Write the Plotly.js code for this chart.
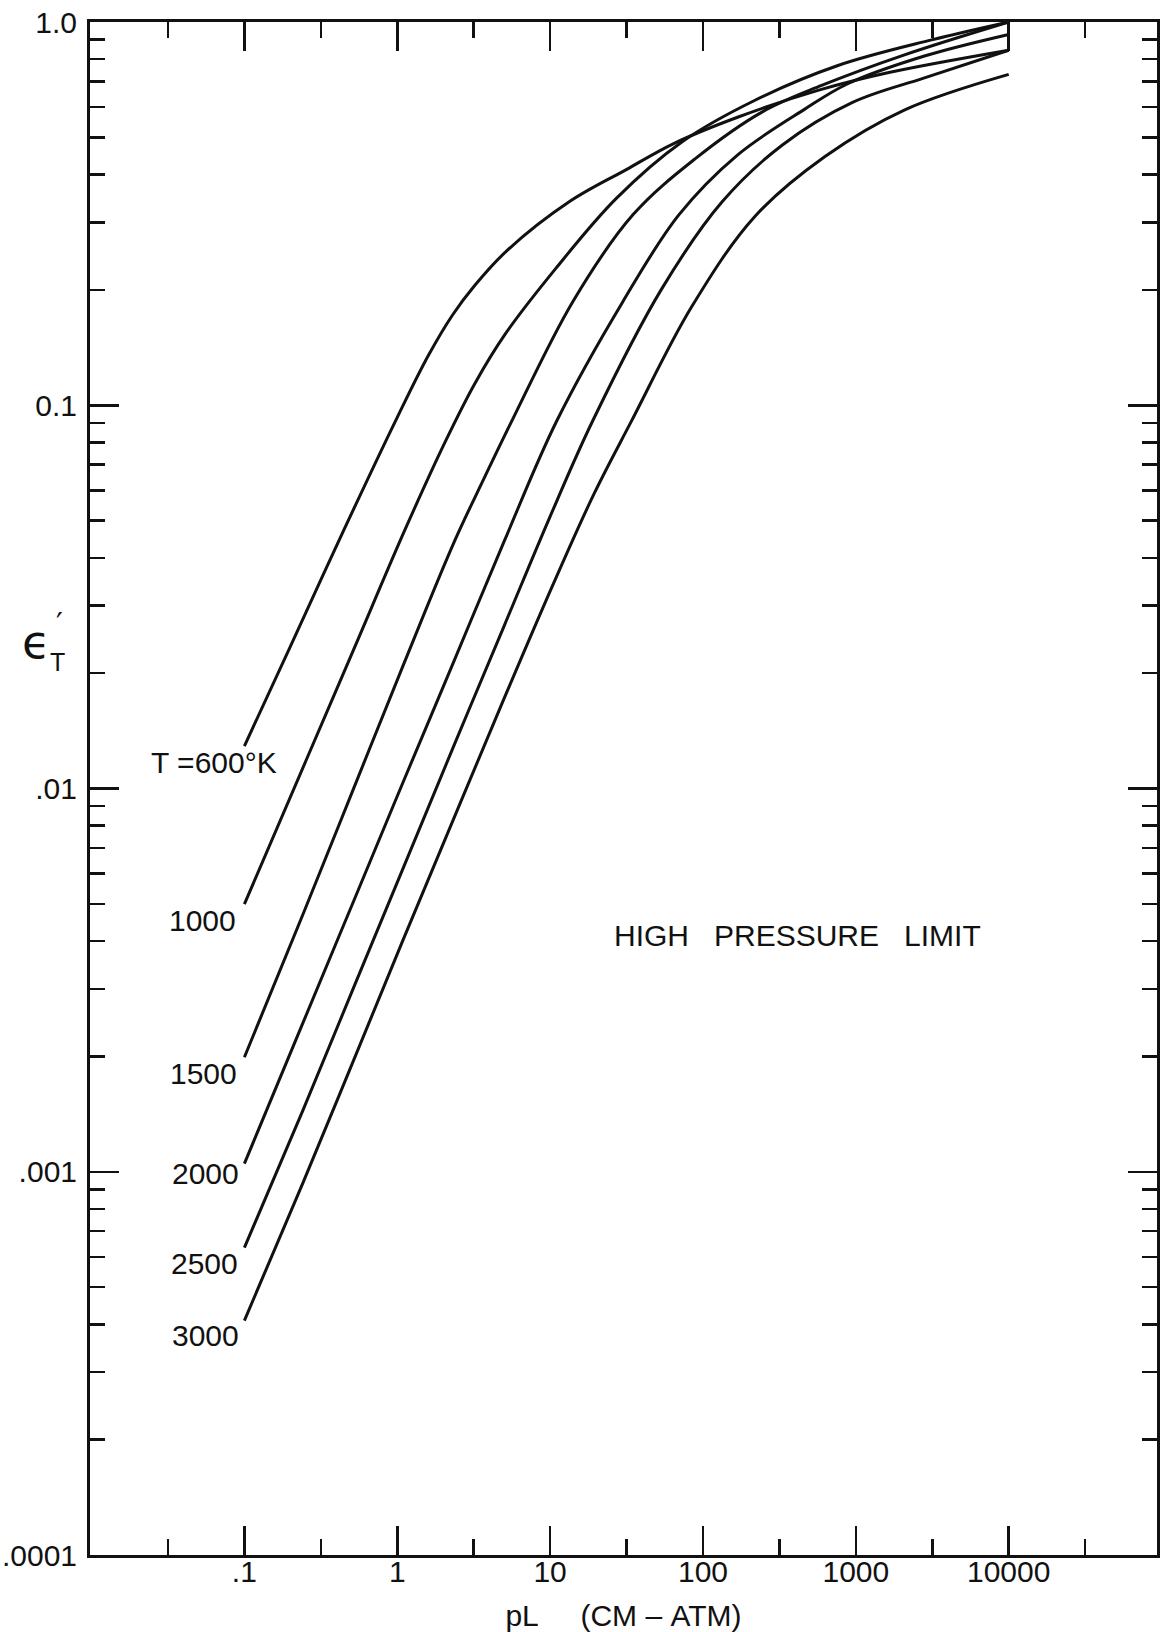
<!DOCTYPE html>
<html><head><meta charset="utf-8">
<script src="https://cdn.plot.ly/plotly-3.0.1.min.js"></script>
<style>html,body{margin:0;padding:0;background:#fff;} #chart{width:1164px;height:1632px;}</style>
</head><body><div id="chart"></div>
<script>
// ---- data (pL in cm-atm, total emissivity) ----
const temps = ['600', '1000', '1500', '2000', '2500', '3000'];

const pl600  = [0.1, 0.2, 0.45, 1.0, 1.6, 2.3, 3.2, 5.18, 13.4, 31.5, 63.8, 170, 565, 1615, 10000];
const eps600 = [0.0129, 0.0235, 0.0475, 0.093, 0.135, 0.172, 0.205, 0.2525, 0.340, 0.412, 0.481, 0.565, 0.663, 0.737, 0.844];

const pl1000  = [0.1, 0.253, 0.525, 1.12, 2.05, 3.22, 5.08, 10.9, 27.0, 73.1, 219, 764, 3130, 10000];
const eps1000 = [0.00499, 0.01183, 0.0233, 0.0472, 0.080, 0.114, 0.1533, 0.2276, 0.346, 0.487, 0.625, 0.770, 0.898, 1.0];

const pl1500  = [0.1, 0.244, 0.521, 1.11, 2.37, 3.73, 5.61, 14.1, 34.9, 88.7, 243, 597, 2080, 10000];
const eps1500 = [0.00199, 0.00474, 0.01005, 0.02127, 0.0442, 0.0649, 0.0909, 0.1866, 0.3144, 0.4394, 0.582, 0.683, 0.821, 1.0];

const pl2000  = [0.1, 0.243, 0.518, 1.10, 2.35, 5.01, 11.0, 29.9, 69.5, 168, 461, 885, 2810, 10000];
const eps2000 = [0.00105, 0.00246, 0.00508, 0.01046, 0.0215, 0.0442, 0.0907, 0.1863, 0.3138, 0.4496, 0.5916, 0.690, 0.815, 0.928];

const pl2500  = [0.1, 0.241, 0.514, 1.10, 2.34, 4.99, 9.88, 18.9, 53.7, 133, 329, 944, 2810, 10000];
const eps2500 = [0.000634, 0.001443, 0.003001, 0.006237, 0.0129, 0.02649, 0.0507, 0.0907, 0.2012, 0.339, 0.477, 0.616, 0.715, 0.844];

const pl3000  = [0.1, 0.240, 0.513, 1.09, 2.33, 4.97, 10.6, 19.4, 33.9, 84.1, 217, 625, 2090, 10000];
const eps3000 = [0.000409, 0.000930, 0.001935, 0.00402, 0.00831, 0.01708, 0.0345, 0.0588, 0.0906, 0.1804, 0.310, 0.445, 0.590, 0.730];

// ---- tick labels ----
const xTickVals  = [0.1, 1, 10, 100, 1000, 10000];
const xTickText  = ['.1', '1', '10', '100', '1000', '10000'];
const xMinorVals = [0.0316, 0.316, 3.16, 31.6, 316, 3162, 31623];
const yTickVals  = [0.0001, 0.001, 0.01, 0.1, 1];
const yTickText  = ['.0001', '.001', '.01', '0.1', '1.0'];
const yMinorVals = [];
[0.0001, 0.001, 0.01, 0.1].forEach(d => { for (let k = 2; k <= 9; k++) yMinorVals.push(+(k * d).toPrecision(3)); });

const curveLabels = ['T =600°K', '1000', '1500', '2000', '2500', '3000'];

const series = [
  [pl600, eps600], [pl1000, eps1000], [pl1500, eps1500],
  [pl2000, eps2000], [pl2500, eps2500], [pl3000, eps3000]
];

const ink = '#111';
const FONT = 'Liberation Sans, Arial, sans-serif';
const traces = series.map((s, i) => ({
  type: 'scatter', mode: 'lines', name: 'T = ' + temps[i] + ' K',
  x: s[0], y: s[1],
  line: {color: ink, width: 3, shape: 'spline', smoothing: 1},
  hoverinfo: 'skip'
}));

// label anchor positions (paper coords)
const labelPos = [
  [0.116, 0.517], [0.105, 0.414], [0.106, 0.314],
  [0.108, 0.249], [0.107, 0.190], [0.108, 0.1435]
];

const annotations = curveLabels.map((t, i) => ({
  text: t, xref: 'paper', yref: 'paper', x: labelPos[i][0], y: labelPos[i][1],
  xanchor: 'center', yanchor: 'middle', showarrow: false,
  font: {size: 30, color: ink, family: FONT}
}));

annotations.push({
  text: 'HIGH\u00a0\u00a0\u00a0PRESSURE\u00a0\u00a0\u00a0LIMIT', xref: 'paper', yref: 'paper', x: 0.663, y: 0.4044,
  xanchor: 'center', yanchor: 'middle', showarrow: false,
  font: {size: 30, color: ink, family: FONT}
});
// y-axis title: epsilon with subscript T and prime
annotations.push({
  text: '\u03f5', xref: 'paper', yref: 'paper', x: -0.051, y: 0.5956,
  xanchor: 'center', yanchor: 'middle', showarrow: false,
  font: {size: 46, color: ink, family: 'DejaVu Sans, sans-serif'}
});
annotations.push({
  text: 'T', xref: 'paper', yref: 'paper', x: -0.0305, y: 0.5825,
  xanchor: 'center', yanchor: 'middle', showarrow: false,
  font: {size: 25, color: ink, family: FONT}
});
annotations.push({
  text: '\u2032', xref: 'paper', yref: 'paper', x: -0.0285, y: 0.6075,
  xanchor: 'center', yanchor: 'middle', showarrow: false,
  font: {size: 30, color: ink, family: 'DejaVu Sans, sans-serif'}
});

const axisCommon = {
  type: 'log', showgrid: false, zeroline: false, showline: true,
  linecolor: ink, linewidth: 3, mirror: 'allticks',
  ticks: 'inside', tickwidth: 2.5, tickcolor: ink, tickmode: 'array',
  tickfont: {size: 30, color: ink, family: FONT}
};

const layout = {
  width: 1164, height: 1632,
  margin: {l: 90, r: 7, t: 22, b: 77},
  paper_bgcolor: '#fff', plot_bgcolor: '#fff',
  showlegend: false,
  font: {family: FONT, color: ink, size: 28},
  xaxis: Object.assign({}, axisCommon, {
    range: [-2.01, 4.97], ticklen: 29,
    tickvals: xTickVals, ticktext: xTickText, ticklabelstandoff: -12,
    minor: {tickmode: 'array', tickvals: xMinorVals, ticks: 'inside', ticklen: 16, tickwidth: 2.5, tickcolor: ink, showgrid: false},
    title: {text: 'pL\u00a0\u00a0\u00a0\u00a0\u00a0(CM\u00a0\u2013\u00a0ATM)', font: {size: 30, color: ink}, standoff: 22}
  }),
  yaxis: Object.assign({}, axisCommon, {
    range: [-4, 0], ticklen: 29,
    tickvals: yTickVals, ticktext: yTickText, ticklabelstandoff: 4,
    minor: {tickmode: 'array', tickvals: yMinorVals, ticks: 'inside', ticklen: 15, tickwidth: 2.5, tickcolor: ink, showgrid: false}
  }),
  annotations: annotations
};

Plotly.newPlot('chart', traces, layout, {staticPlot: true, displayModeBar: false});
</script></body></html>
